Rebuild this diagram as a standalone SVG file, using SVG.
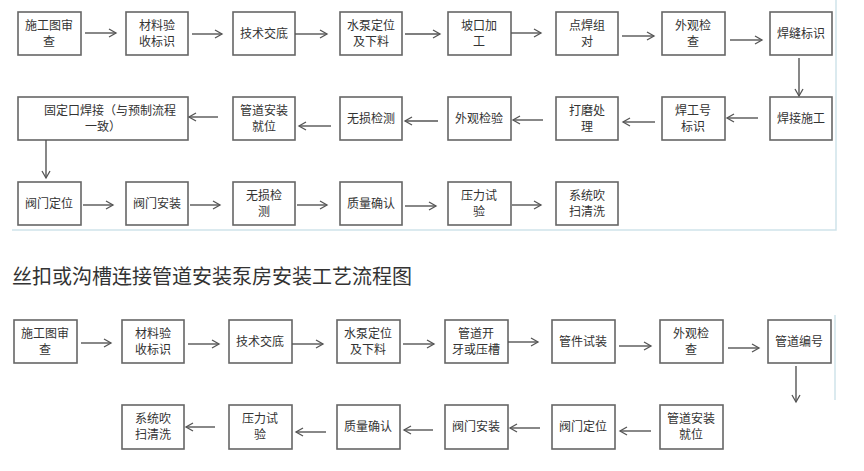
<svg xmlns="http://www.w3.org/2000/svg" width="864" height="471" viewBox="0 0 864 471">
<defs>
<marker id="a" markerWidth="10" markerHeight="10" refX="8" refY="5" orient="auto" markerUnits="userSpaceOnUse"><path d="M1,1 L8,5 L1,9" fill="none" stroke="#555" stroke-width="1.3"/></marker>
</defs>
<style>
rect{fill:#fff;stroke:#666;stroke-width:1.6}
text{font-family:"Noto Sans CJK SC",sans-serif;font-size:12px;fill:#333;text-anchor:middle}
.c line{stroke:#555;stroke-width:1.4;marker-end:url(#a)}
.t{font-size:20px;text-anchor:start;fill:#333}
.f{stroke:#cfe3ea;stroke-width:1.5;fill:none}
</style>
<rect width="864" height="471" style="fill:#fff;stroke:none"/>
<path class="f" d="M836,0 V230 H12"/>
<line class="f" x1="835" y1="315" x2="835" y2="400"/>
<g id="n1"><rect x="18" y="12" width="63" height="43"/><text x="49" y="30">施工图审</text><text x="49" y="46">查</text></g>
<g id="n2"><rect x="126" y="12" width="62" height="43"/><text x="157" y="30">材料验</text><text x="157" y="46">收标识</text></g>
<g id="n3"><rect x="233" y="12" width="62" height="43"/><text x="264" y="38">技术交底</text></g>
<g id="n4"><rect x="340" y="12" width="62" height="43"/><text x="371" y="30">水泵定位</text><text x="371" y="46">及下料</text></g>
<g id="n5"><rect x="448" y="12" width="63" height="43"/><text x="479" y="30">坡口加</text><text x="479" y="46">工</text></g>
<g id="n6"><rect x="556" y="12" width="62" height="43"/><text x="587" y="30">点焊组</text><text x="587" y="46">对</text></g>
<g id="n7"><rect x="662" y="12" width="63" height="43"/><text x="693" y="30">外观检</text><text x="693" y="46">查</text></g>
<g id="n8"><rect x="770" y="12" width="62" height="43"/><text x="801" y="38">焊缝标识</text></g>
<g id="n9"><rect x="770" y="97" width="62" height="43"/><text x="801" y="123">焊接施工</text></g>
<g id="n10"><rect x="662" y="97" width="63" height="43"/><text x="693" y="115">焊工号</text><text x="693" y="131">标识</text></g>
<g id="n11"><rect x="556" y="97" width="62" height="43"/><text x="587" y="115">打磨处</text><text x="587" y="131">理</text></g>
<g id="n12"><rect x="448" y="97" width="63" height="43"/><text x="479" y="123">外观检验</text></g>
<g id="n13"><rect x="340" y="97" width="62" height="43"/><text x="371" y="123">无损检测</text></g>
<g id="n14"><rect x="233" y="97" width="62" height="43"/><text x="264" y="115">管道安装</text><text x="264" y="131">就位</text></g>
<g id="n15"><rect x="18" y="97" width="170" height="43"/><text x="110" y="115">固定口焊接（与预制流程</text><text x="103" y="131">一致）</text></g>
<g id="n16"><rect x="18" y="182" width="63" height="43"/><text x="49" y="208">阀门定位</text></g>
<g id="n17"><rect x="126" y="182" width="62" height="43"/><text x="157" y="208">阀门安装</text></g>
<g id="n18"><rect x="233" y="182" width="62" height="43"/><text x="264" y="200">无损检</text><text x="264" y="216">测</text></g>
<g id="n19"><rect x="340" y="182" width="62" height="43"/><text x="371" y="208">质量确认</text></g>
<g id="n20"><rect x="448" y="182" width="63" height="43"/><text x="479" y="200">压力试</text><text x="479" y="216">验</text></g>
<g id="n21"><rect x="556" y="182" width="62" height="43"/><text x="587" y="200">系统吹</text><text x="587" y="216">扫清洗</text></g>
<text class="t" x="12" y="284">丝扣或沟槽连接管道安装泵房安装工艺流程图</text>
<g id="m1"><rect x="14" y="320" width="63" height="43"/><text x="45" y="338">施工图审</text><text x="45" y="354">查</text></g>
<g id="m2"><rect x="122" y="320" width="62" height="43"/><text x="153" y="338">材料验</text><text x="153" y="354">收标识</text></g>
<g id="m3"><rect x="229" y="320" width="63" height="43"/><text x="260" y="346">技术交底</text></g>
<g id="m4"><rect x="337" y="320" width="63" height="43"/><text x="368" y="338">水泵定位</text><text x="368" y="354">及下料</text></g>
<g id="m5"><rect x="445" y="320" width="63" height="43"/><text x="476" y="338">管道开</text><text x="476" y="354">牙或压槽</text></g>
<g id="m6"><rect x="552" y="320" width="63" height="43"/><text x="583" y="346">管件试装</text></g>
<g id="m7"><rect x="660" y="320" width="63" height="43"/><text x="691" y="338">外观检</text><text x="691" y="354">查</text></g>
<g id="m8"><rect x="768" y="320" width="63" height="43"/><text x="799" y="346">管道编号</text></g>
<g id="m9"><rect x="660" y="405" width="63" height="44"/><text x="691" y="423">管道安装</text><text x="691" y="439">就位</text></g>
<g id="m10"><rect x="552" y="405" width="63" height="44"/><text x="583" y="431">阀门定位</text></g>
<g id="m11"><rect x="445" y="405" width="63" height="44"/><text x="476" y="431">阀门安装</text></g>
<g id="m12"><rect x="337" y="405" width="63" height="44"/><text x="368" y="431">质量确认</text></g>
<g id="m13"><rect x="229" y="405" width="63" height="44"/><text x="260" y="423">压力试</text><text x="260" y="439">验</text></g>
<g id="m14"><rect x="122" y="405" width="62" height="44"/><text x="153" y="423">系统吹</text><text x="153" y="439">扫清洗</text></g>
<g class="c">
<line x1="85" y1="33" x2="116" y2="33"/><line x1="192" y1="34" x2="222" y2="34"/><line x1="295" y1="34" x2="327" y2="34"/><line x1="405" y1="34" x2="440" y2="34"/>
<line x1="511" y1="33" x2="541" y2="33"/><line x1="622" y1="36" x2="654" y2="36"/><line x1="730" y1="40" x2="762" y2="40"/>
<line x1="799" y1="58" x2="799" y2="96"/>
<line x1="758" y1="118" x2="727" y2="118"/><line x1="655" y1="122" x2="623" y2="122"/><line x1="543" y1="120" x2="513" y2="120"/><line x1="438" y1="121" x2="405" y2="121"/>
<line x1="331" y1="126" x2="299" y2="126"/><line x1="218" y1="117" x2="189" y2="117"/>
<line x1="46" y1="140" x2="46" y2="178"/>
<line x1="83" y1="205" x2="113" y2="205"/><line x1="190" y1="205" x2="220" y2="205"/><line x1="297" y1="205" x2="327" y2="205"/><line x1="405" y1="206" x2="436" y2="206"/><line x1="512" y1="205" x2="541" y2="205"/>
<line x1="81" y1="343" x2="111" y2="343"/><line x1="188" y1="344" x2="219" y2="344"/><line x1="292" y1="344" x2="323" y2="344"/><line x1="403" y1="344" x2="434" y2="344"/>
<line x1="508" y1="342" x2="538" y2="342"/><line x1="619" y1="346" x2="651" y2="346"/><line x1="728" y1="348" x2="759" y2="348"/>
<line x1="796" y1="366" x2="796" y2="402"/>
<line x1="651" y1="431" x2="620" y2="431"/><line x1="540" y1="428" x2="510" y2="428"/><line x1="433" y1="430" x2="404" y2="430"/><line x1="326" y1="432" x2="296" y2="432"/><line x1="215" y1="427" x2="186" y2="427"/>
</g>
</svg>
